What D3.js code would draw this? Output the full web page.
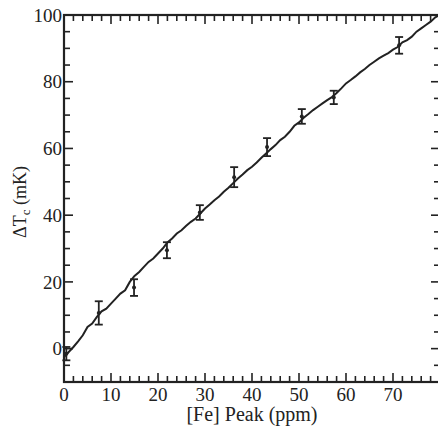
<!DOCTYPE html>
<html><head><meta charset="utf-8">
<script src="https://cdn.jsdelivr.net/npm/d3@7"></script>
<style>body{margin:0;background:#fff}svg{display:block}text{font-family:"Liberation Serif","DejaVu Serif",serif;fill:#222}</style>
</head><body><svg id="c" width="438" height="427"></svg>
<script>
// measured data points: [Fe] peak (ppm), ΔTc (mK), error (mK)
const pointX = [0.5, 7.4, 14.9, 21.9, 28.9, 36.2, 43.2, 50.6, 57.4, 71.3];
const pointY = [-1.5, 10.7, 18.3, 29.5, 40.8, 51.4, 60.4, 69.6, 75.3, 90.9];
const pointErr = [2, 3.5, 2.5, 2.4, 2.2, 3, 2.7, 2.2, 2, 2.5];
// fitted curve
const curveX = [0,1,2,3,4,5,6,7,8,9,10,11,12,13,14,15,16,17,18,19,20,21,22,23,24,25,26,27,28,29,30,31,32,33,34,35,36,37,38,39,40,41,42,43,44,45,46,47,48,49,50,51,52,53,54,55,56,57,58,59,60,61,62,63,64,65,66,67,68,69,70,71,72,73,74,75,76,77,78,79,80];
const curveY = [-2.5,-1,0.5,2.2,4,6.5,7.5,9.5,11.2,12,13.5,15,16.5,17.5,20,21.8,23,24.5,26,27,28.5,30,31.8,33,34.5,35.5,36.8,38,39,40.5,42,43.2,44.5,45.6,47,48.2,49.6,51,52.2,53.5,54.5,55.8,57.2,58.5,59.8,61,62.5,63.5,65,66.8,67.8,69.2,70.3,71.5,72.5,73.5,74.5,75.4,76.6,78,79.5,80.5,81.6,82.8,83.8,85,86,87,87.8,88.6,89.6,90.4,91.8,92.5,93.5,95,96,97,98,99.3,100];
const xTicks = [0,10,20,30,40,50,60,70];
const yTicks = [0,20,40,60,80,100];
const xLabel = "[Fe] Peak (ppm)";

const svg = d3.select("#c");
const x = d3.scaleLinear().domain([0, 80]).range([64, 440]);
const y = d3.scaleLinear().domain([-10, 100]).range([382, 15]);
const ink = "#222";

// minor ticks
const xMinor = d3.range(0, 81, 2);
const yMinor = d3.range(-10, 101, 5);
const tickG = svg.append("g").attr("stroke", ink).attr("stroke-width", 1.6);
xMinor.forEach(v => {
  const L = v % 10 === 0 ? 9 : 6;
  tickG.append("line").attr("x1", x(v)).attr("x2", x(v)).attr("y1", y(-10)).attr("y2", y(-10) - L);
  tickG.append("line").attr("x1", x(v)).attr("x2", x(v)).attr("y1", y(100)).attr("y2", y(100) + L);
});
yMinor.forEach(v => {
  const L = v % 20 === 0 ? 9 : 6;
  tickG.append("line").attr("x1", x(0)).attr("x2", x(0) + L).attr("y1", y(v)).attr("y2", y(v));
  tickG.append("line").attr("x1", x(80)).attr("x2", x(80) - L).attr("y1", y(v)).attr("y2", y(v));
});

// frame
svg.append("rect").attr("x", x(0)).attr("y", y(100)).attr("width", x(80) - x(0)).attr("height", y(-10) - y(100))
  .attr("fill", "none").attr("stroke", ink).attr("stroke-width", 2.2);

// tick labels
svg.append("g").selectAll("text").data(xTicks).join("text")
  .attr("x", d => x(d)).attr("y", 401).attr("text-anchor", "middle").attr("font-size", 19).text(d => d);
svg.append("g").selectAll("text").data(yTicks).join("text")
  .attr("x", 62).attr("y", d => y(d)).attr("dy", "0.35em").attr("text-anchor", "end").attr("font-size", 19).text(d => d);

// axis titles
svg.append("text").attr("x", 252).attr("y", 421).attr("text-anchor", "middle").attr("font-size", 20).text(xLabel);
const yt = svg.append("text").attr("transform", "translate(26,202) rotate(-90)").attr("text-anchor", "middle").attr("font-size", 18);
yt.append("tspan").text("ΔT");
yt.append("tspan").attr("font-size", 13).attr("dy", 4).text("c");
yt.append("tspan").attr("dy", -4).text(" (mK)");

// curve
const line = d3.line().x(d => x(d[0])).y(d => y(d[1])).curve(d3.curveLinear);
svg.append("path").datum(curveX.map((v, i) => [v, curveY[i]])).attr("d", line)
  .attr("fill", "none").attr("stroke", ink).attr("stroke-width", 2);

// error bars
const pts = pointX.map((v, i) => ({x: v, y: pointY[i], e: pointErr[i]}));
const eb = svg.append("g").attr("stroke", ink).attr("stroke-width", 1.8);
pts.forEach(p => {
  eb.append("line").attr("x1", x(p.x)).attr("x2", x(p.x)).attr("y1", y(p.y - p.e)).attr("y2", y(p.y + p.e));
  eb.append("line").attr("x1", x(p.x) - 4).attr("x2", x(p.x) + 4).attr("y1", y(p.y - p.e)).attr("y2", y(p.y - p.e));
  eb.append("line").attr("x1", x(p.x) - 4).attr("x2", x(p.x) + 4).attr("y1", y(p.y + p.e)).attr("y2", y(p.y + p.e));
});
svg.append("g").selectAll("circle").data(pts).join("circle")
  .attr("cx", d => x(d.x)).attr("cy", d => y(d.y)).attr("r", 2).attr("fill", ink);
</script></body></html>
